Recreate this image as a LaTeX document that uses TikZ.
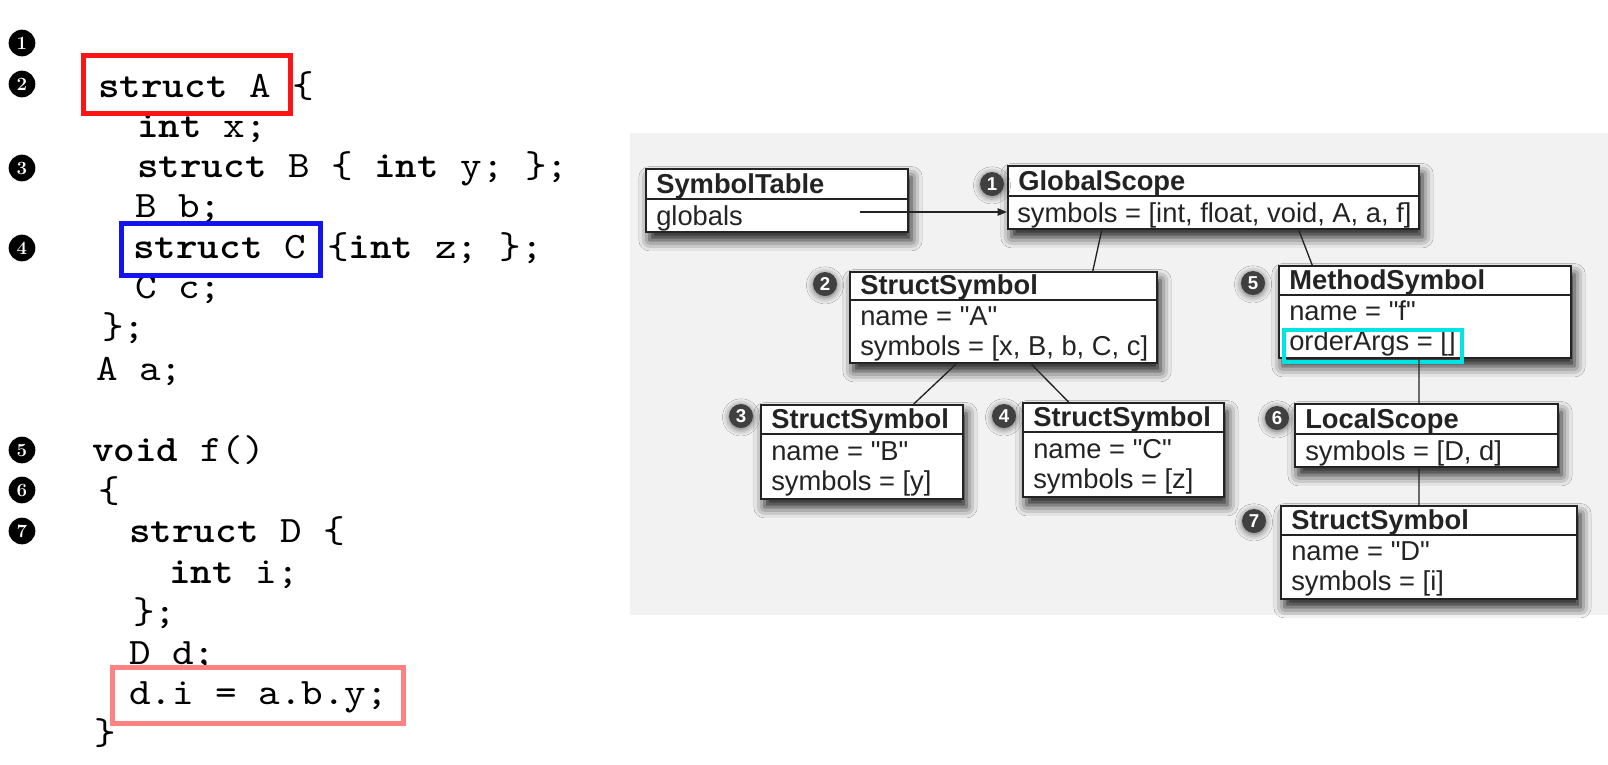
\documentclass[tikz,border=0pt]{standalone}
\usepackage{fontspec}
\newfontfamily\boxfont{Liberation Sans}
\newfontfamily\codefont{lmmono10-regular}[Extension=.otf,BoldFont=lmmonolt10-bold,FakeStretch=1.1]
\usetikzlibrary{calc,shadows.blur,arrows.meta}
\definecolor{hlred}{RGB}{250,20,20}
\definecolor{hlblue}{RGB}{20,20,240}
\definecolor{hlpink}{RGB}{255,130,130}
\definecolor{hlcyan}{RGB}{0,228,228}
\definecolor{paper}{RGB}{242,242,242}
\definecolor{ink}{RGB}{35,35,35}
\tikzset{
  code/.style={anchor=base west, inner sep=0pt, font=\codefont\fontsize{28}{30}\selectfont},
  cnum/.style={circle, fill=black, inner sep=0pt, minimum size=20pt, text=white, font=\bfseries\fontsize{14}{14}\selectfont},
  hlbox/.style={line width={5*0.75pt}},
  umlb/.style={draw=ink, line width=1.8pt, fill=white, anchor=north west, inner sep=0pt,
    blur shadow={shadow xshift=2.5pt, shadow yshift=-6pt, shadow blur radius=8pt, shadow opacity=90}},
  sepl/.style={draw=ink, line width=1.6pt},
  hd/.style={anchor=base west, inner sep=0pt, text=ink, font=\boxfont\bfseries\fontsize{20.5}{22}\selectfont},
  fld/.style={anchor=base west, inner sep=0pt, text=ink, font=\boxfont\fontsize{20.5}{22}\selectfont},
  dnum/.style={circle, fill=black!75, inner sep=0pt, minimum size=18pt, text=white,
    font=\boxfont\bfseries\fontsize{14}{14}\selectfont,
    blur shadow={shadow xshift=0pt, shadow yshift=-1pt, shadow blur radius=5pt, shadow opacity=60}},
  conn/.style={draw=ink, line width=1pt},
}
\newcommand\umlbox[7]{%
  \node[umlb, minimum width={#4*0.75pt}, minimum height={#5*0.75pt}] (#1) at (#2,#3) {};
  \draw[sepl] ($(#1.north west)+(0,#6)$) -- ($(#1.north east)+(0,#6)$);
  \node[hd] (#1-h) at ($(#1.north west)+(11,#6-6)$) {#7};
}
\begin{document}
\begin{tikzpicture}[x=0.75pt,y=-0.75pt]
\useasboundingbox (0,0) rectangle (1608,764);
\fill[white] (0,0) rectangle (1608,764);
\fill[paper] (630,133) rectangle (1608,615);

% ---------- code listing ----------
\node[cnum] (n1) at (22,43) {1};
\node[cnum] (n2) at (22,84) {2};
\node[cnum] (n3) at (22,168) {3};
\node[cnum] (n4) at (22,248) {4};
\node[cnum] (n5) at (22,450) {5};
\node[cnum] (n6) at (22,490) {6};
\node[cnum] (n7) at (22,531) {7};

\node[code] (c1) at (98,97) {\textbf{struct} A \{};
\node[code] (c2) at (137,137) {\textbf{int} x;};
\node[code] (c3) at (137,177) {\textbf{struct} B \{ \textbf{int} y; \};};
\node[code] (c4) at (135,217) {B b;};
\node[code] (c5) at (133,258) {\textbf{struct} C \{\textbf{int} z; \};};
\node[code] (c6) at (135,298) {C c;};
\node[code] (c7) at (102,338) {\};};
\node[code] (c8) at (96,380) {A a;};
\node[code] (c9) at (92,461) {\textbf{void} f()};
\node[code] (c10) at (98,502) {\{};
\node[code] (c11) at (129,542) {\textbf{struct} D \{};
\node[code] (c12) at (169,583) {\textbf{int} i;};
\node[code] (c13) at (133,623) {\};};
\node[code] (c14) at (129,664) {D d;};
\node[code] (c15) at (129,704) {d.i = a.b.y;};
\node[code] (c16) at (94,744) {\}};

\draw[hlbox, hlred] (83,55) rectangle (290,113);
\draw[hlbox, hlblue] (121,223) rectangle (320,275);
\draw[hlbox, hlpink] (112,667) rectangle (403,723);

% ---------- symbol table diagram ----------
\umlbox{st}{645}{168}{262}{63}{31}{SymbolTable}
\node[fld] (st-1) at ($(st.north west)+(11,57)$) {globals};

\umlbox{gs}{1007}{165}{411}{63}{31}{GlobalScope}
\node[fld] (gs-1) at ($(gs.north west)+(10,57)$) {symbols = [int, float, void, A, a, f]};

\umlbox{sa}{849}{271}{307}{91}{29}{StructSymbol}
\node[fld] (sa-1) at ($(sa.north west)+(11,54)$) {name = "A"};
\node[fld] (sa-2) at ($(sa.north west)+(11,84)$) {symbols = [x, B, b, C, c]};

\umlbox{ms}{1278}{265}{292}{92}{30}{MethodSymbol}
\node[fld] (ms-1) at ($(ms.north west)+(11,55)$) {name = "f"};
\node[fld] (ms-2) at ($(ms.north west)+(11,85)$) {orderArgs = []};

\umlbox{sb}{760}{404}{202}{94}{30}{StructSymbol}
\node[fld] (sb-1) at ($(sb.north west)+(11,56)$) {name = "B"};
\node[fld] (sb-2) at ($(sb.north west)+(11,86)$) {symbols = [y]};

\umlbox{sc}{1022}{402}{201}{94}{30}{StructSymbol}
\node[fld] (sc-1) at ($(sc.north west)+(11,56)$) {name = "C"};
\node[fld] (sc-2) at ($(sc.north west)+(11,86)$) {symbols = [z]};

\umlbox{ls}{1294}{403}{263}{63}{31}{LocalScope}
\node[fld] (ls-1) at ($(ls.north west)+(11,57)$) {symbols = [D, d]};

\umlbox{sd}{1280}{505}{296}{93}{30}{StructSymbol}
\node[fld] (sd-1) at ($(sd.north west)+(11,55)$) {name = "D"};
\node[fld] (sd-2) at ($(sd.north west)+(11,85)$) {symbols = [i]};

\draw[line width=3pt, hlcyan] (1284,330) rectangle (1462,362);

% numbers
\node[dnum] (d1) at (992,184) {1};
\node[dnum] (d2) at (825,284) {2};
\node[dnum] (d3) at (741,416) {3};
\node[dnum] (d4) at (1004,416) {4};
\node[dnum] (d5) at (1253,283) {5};
\node[dnum] (d6) at (1277,418) {6};
\node[dnum] (d7) at (1254,521) {7};

% connectors
\coordinate (gstart) at (860,212);
\draw[conn, -{Triangle[length=7pt,width=5.5pt]}] (gstart) -- (gstart -| gs.west);
\draw[conn] ($(gs.south west)!0.229!(gs.south east)$) -- ($(sa.north west)!0.788!(sa.north east)$);
\draw[conn] ($(gs.south west)!0.706!(gs.south east)$) -- ($(ms.north west)!0.116!(ms.north east)$);
\draw[conn] ($(sa.south west)!0.345!(sa.south east)$) -- ($(sb.north west)!0.752!(sb.north east)$);
\draw[conn] ($(sa.south west)!0.59!(sa.south east)$) -- ($(sc.north west)!0.229!(sc.north east)$);
\draw[conn] ($(ms.south west)!0.479!(ms.south east)$) -- ($(ls.north west)!0.471!(ls.north east)$);
\draw[conn] ($(ls.south west)!0.471!(ls.south east)$) -- ($(sd.north west)!0.466!(sd.north east)$);
\end{tikzpicture}
\end{document}
